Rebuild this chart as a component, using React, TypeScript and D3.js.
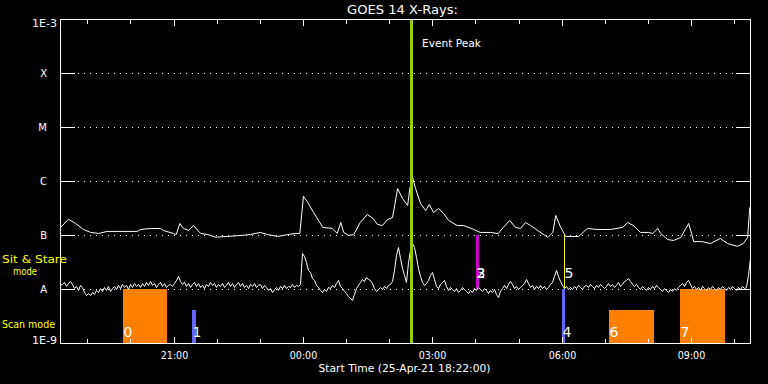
import React from 'react';
import * as d3 from 'd3';

const W = 768;
const H = 384;

// Time window: 25-Apr-21 18:22:00 UTC, 16 hours
const START_UTC = Date.UTC(2021, 3, 25, 18, 22, 0);
const SPAN_MIN = 960;

// GOES 14 long channel (1-8 A), minutes after start, flux in units of 1e-7 W/m^2
const longTimeMin = [
  0, 11, 21, 32, 42, 53, 65, 83, 107, 111, 125, 139, 143, 157, 161, 166, 171, 178, 185, 191,
  195, 205, 216, 232, 250, 264, 278, 288, 302, 316, 327, 333, 338, 344, 352, 365, 378, 385, 390, 394,
  401, 408, 417, 427, 435, 441, 448, 455, 462, 469, 476, 483, 486, 490, 494, 501, 508, 513, 519, 526,
  533, 540, 552, 561, 575, 584, 598, 609, 616, 625, 633, 640, 647, 654, 664, 678, 685, 689, 696, 703,
  721, 733, 747, 765, 782, 789, 797, 807, 818, 824, 831, 835, 845, 853, 863, 870, 874, 878, 881, 893,
  904, 918, 928, 942, 950, 956, 959, 960,
];
const longFlux1e7 = [
  1.4, 2.0, 1.67, 1.29, 1.14, 1.09, 1.19, 1.19, 1.19, 1.29, 1.35, 1.35, 1.24, 1.09, 1.04, 1.67, 1.35, 1.24, 1.53, 1.24,
  1.09, 1.04, 0.93, 0.96, 1.0, 1.04, 1.14, 1.04, 0.96, 1.04, 1.09, 1.09, 5.3, 4.1, 2.67, 1.41, 1.35, 1.09, 1.74, 1.14,
  1.0, 1.04, 1.74, 2.45, 2.06, 1.6, 1.53, 1.98, 2.15, 7.4, 4.8, 3.6, 7.4, 11.8, 7.4, 3.9, 2.9, 3.75, 2.67, 3.16,
  2.55, 1.9, 1.53, 1.53, 1.29, 1.14, 1.14, 1.09, 1.41, 1.9, 1.41, 1.35, 1.74, 1.53, 1.24, 0.92, 1.14, 2.35, 1.41, 0.96,
  0.96, 1.35, 1.29, 1.29, 1.41, 1.74, 1.53, 1.14, 1.14, 1.09, 1.35, 1.09, 0.84, 0.81, 0.92, 1.35, 1.67, 1.09, 0.77, 0.77,
  0.71, 0.88, 0.71, 0.63, 0.71, 0.92, 3.3, 3.4,
];

// GOES 14 short channel (0.5-4 A), evenly sampled over the window, flux in units of 1e-8 W/m^2
const shortFlux1e8 = [
  1.19, 1.24, 1.35, 1.14, 1.29, 1.41, 1.24, 1.04, 1.14, 0.96, 1.19, 1.09, 0.88, 0.77, 0.84, 0.77, 0.88, 0.81, 0.96, 0.88,
  1.04, 0.92, 1.09, 0.96, 1.14, 0.92, 1.04, 1.14, 1.00, 1.19,
  1.04, 1.24, 1.09, 1.19, 1.00, 1.24, 1.09, 1.29, 1.14, 1.24, 1.09, 1.29, 1.14, 1.35, 1.19, 1.41, 1.19, 1.29, 1.09, 1.24,
  1.35, 1.14, 1.29, 1.09, 1.19, 1.24, 1.14, 1.29, 1.47, 1.74,
  1.41, 1.24, 1.35, 1.14, 1.29, 1.09, 1.24, 1.35, 1.14, 1.29, 1.09, 1.19, 1.04, 1.24, 1.14, 1.35, 1.19, 1.29, 1.09, 1.24,
  1.14, 1.29, 1.09, 1.19, 1.35, 1.14, 1.29, 1.09, 1.24, 1.35,
  1.14, 1.29, 1.09, 1.19, 1.04, 1.24, 1.14, 1.29, 1.09, 1.19, 1.24, 1.04, 1.19, 1.09, 0.96, 1.04, 0.88, 1.00, 1.09, 0.96,
  1.14, 1.04, 1.19, 1.04, 1.14, 1.09, 1.24, 1.09, 1.19, 1.14,
  1.24, 4.64, 4.08, 3.16, 2.25, 2.06, 1.60, 1.47, 1.19, 1.09, 0.96, 0.88, 1.00, 0.92, 1.09, 1.04, 1.19, 1.09, 1.29, 1.47,
  1.14, 1.04, 0.92, 0.84, 0.74, 0.68, 0.63, 0.81, 1.04, 1.19,
  1.35, 1.53, 1.41, 1.67, 1.53, 1.47, 1.29, 1.04, 0.92, 1.00, 1.09, 1.00, 1.14, 1.04, 1.19, 1.24, 1.41, 2.25, 4.26, 6.0,
  3.75, 2.45, 1.82, 1.35, 3.16, 5.27, 7.11, 6.0, 3.91, 2.45,
  1.74, 1.35, 1.19, 1.29, 1.47, 1.82, 2.06, 1.53, 1.14, 1.04, 1.24, 1.35, 1.47, 1.14, 0.96, 1.09, 1.00, 0.92, 1.04, 0.88,
  0.96, 1.09, 1.00, 0.92, 0.84, 0.96, 0.88, 1.04, 0.96, 1.09,
  1.00, 0.92, 1.04, 0.96, 0.84, 0.96, 0.88, 1.00, 0.81, 0.71, 0.92, 1.04, 1.19, 1.04, 1.24, 1.41, 1.24, 1.04, 1.14, 1.00,
  1.09, 1.19, 1.29, 1.53, 1.29, 1.09, 1.19, 1.00, 1.14, 1.04,
  1.19, 1.04, 1.14, 1.00, 1.09, 1.24, 1.35, 1.74, 2.25, 1.74, 1.41, 1.19, 1.04, 1.14, 1.00, 1.09, 1.00, 1.14, 1.04, 1.19,
  1.09, 1.00, 1.14, 1.19, 1.09, 1.24, 1.14, 1.04, 1.19, 1.09,
  1.24, 1.14, 1.04, 1.14, 1.29, 1.14, 1.24, 1.09, 1.19, 1.35, 1.14, 1.24, 1.41, 1.47, 1.60, 1.41, 1.24, 1.14, 1.24, 1.09,
  1.00, 1.14, 1.04, 0.96, 1.09, 1.00, 1.14, 1.04, 1.19, 1.09,
  1.00, 0.92, 1.04, 0.96, 0.88, 1.00, 0.92, 1.04, 0.96, 1.09, 1.19, 1.29, 1.14, 1.35, 1.47, 1.24, 1.04, 1.14, 1.00, 1.09,
  0.96, 1.14, 1.04, 0.96, 1.09, 1.00, 1.14, 1.04, 0.96, 1.09,
  1.00, 1.14, 1.04, 0.96, 1.09, 1.00, 1.14, 1.04, 0.96, 1.09, 1.00, 1.14, 1.04, 1.09, 1.82, 3.75,
];

// GOES class levels
const classLetters = ['A', 'B', 'C', 'M', 'X'];
const classFlux = [1e-8, 1e-7, 1e-6, 1e-5, 1e-4];
const axisMin = 1e-9;
const axisMax = 1e-3;
const axisMinLabel = '1E-9';
const axisMaxLabel = '1E-3';

// Observations overlaid on the plot
const obsIds = ['0', '1', '2', '3', '4', '5', '6', '7'];
const obsStartMin = [88, 184, 579, 579, 698, 701, 764, 863];
const obsEndMin = [149, 189, 583, 583, 702, 701, 826, 925];
const obsLowFlux = [1e-9, 1e-9, 1e-8, 1e-8, 1e-9, 1e-8, 1e-9, 1e-9];
const obsHighFlux = [1e-8, 4e-9, 1e-7, 1e-7, 1e-8, 1e-7, 4e-9, 1e-8];
const obsKind = ['raster', 'short', 'stare', 'stare', 'short', 'stareShort', 'raster', 'raster'];

const eventPeakMin = 488;

const title = 'GOES 14 X-Rays:';
const eventLabel = 'Event Peak';
const xAxisTitle = 'Start Time (25-Apr-21 18:22:00)';
const modeLabels = ['Sit & Stare', 'mode', 'Scan mode'];

// ---------- styles ----------
const kindColor: Record<string, string> = {
  raster: '#ff8000',
  short: '#6464ff',
  stare: '#cc00cc',
  stareShort: '#ffff00',
};
const FONT = 'DejaVu Sans, sans-serif';
const L = 60, R = 750, T = 19, B = 343;

export default function App() {
  const start = new Date(START_UTC);
  const end = new Date(START_UTC + SPAN_MIN * 60000);
  const t = d3.scaleLinear().domain([0, SPAN_MIN]).range([L, R]);
  const xTime = d3.scaleUtc().domain([start, end]).range([L, R]);
  const y = d3.scaleLog().domain([axisMin, axisMax]).range([B, T]);

  const longLine = d3
    .line<number>()
    .x((_, i) => t(longTimeMin[i]) + 0.5)
    .y((v) => y(v * 1e-7) + 0.5)(longFlux1e7) as string;

  const step = SPAN_MIN / (shortFlux1e8.length - 1);
  const shortLine = d3
    .line<number>()
    .x((_, i) => t(i * step) + 0.5)
    .y((v) => y(v * 1e-8) + 0.5)(shortFlux1e8) as string;

  const hours = d3.utcHour.range(start, end);
  const fmt = d3.utcFormat('%H:%M');

  const peakX = Math.round(t(eventPeakMin)) - 1;

  return (
    <svg
      width={W}
      height={H}
      style={{ position: 'absolute', left: 0, top: 0, background: '#000' }}
      fontFamily={FONT}
    >
      <rect x={0} y={0} width={W} height={H} fill="#000" />

      {/* dotted class levels */}
      {classFlux.map((f, i) => (
        <line
          key={'g' + i}
          x1={78}
          x2={736}
          y1={y(f) + 0.5}
          y2={y(f) + 0.5}
          stroke="#fff"
          strokeDasharray="1 5"
          shapeRendering="crispEdges"
        />
      ))}

      {/* observation markers */}
      {obsIds.map((id, i) => {
        const x0 = Math.round(t(obsStartMin[i]));
        const x1 = Math.round(t(obsEndMin[i]));
        const w = Math.max(1, x1 - x0);
        const yTop = Math.round(y(obsHighFlux[i]));
        const yBot = Math.round(y(obsLowFlux[i]));
        return (
          <rect
            key={'o' + id}
            x={x0}
            y={yTop}
            width={w}
            height={yBot - yTop}
            fill={kindColor[obsKind[i]]}
            shapeRendering="crispEdges"
          />
        );
      })}

      {/* curves */}
      <path d={longLine} fill="none" stroke="#fff" strokeWidth={1} />
      <path d={shortLine} fill="none" stroke="#fff" strokeWidth={1} />

      {/* observation labels */}
      {obsIds.map((id, i) => {
        const x0 = Math.round(t(obsStartMin[i]));
        const yBot = y(obsLowFlux[i]);
        const off = obsLowFlux[i] <= axisMin ? 6 : 11.5;
        return (
          <text key={'l' + id} x={x0 + 0.5} y={yBot - off} fill="#fff" fontSize={14}>
            {id}
          </text>
        );
      })}

      {/* event peak */}
      <rect x={peakX} y={T} width={3} height={B - T + 1} fill="#9ccc00" shapeRendering="crispEdges" />
      <text x={peakX + 12} y={46.5} fill="#fff" fontSize={11} textLength={59} lengthAdjust="spacingAndGlyphs">
        {eventLabel}
      </text>

      {/* frame */}
      <rect x={L + 0.5} y={T + 0.5} width={R - L} height={B - T} fill="none" stroke="#fff" shapeRendering="crispEdges" />

      {/* y class ticks */}
      {[axisMin, ...classFlux, axisMax].map((f, i) => (
        <g key={'yt' + i}>
          <line x1={L} x2={L + 15} y1={y(f) + 0.5} y2={y(f) + 0.5} stroke="#fff" shapeRendering="crispEdges" />
          <line x1={R - 14} x2={R} y1={y(f) + 0.5} y2={y(f) + 0.5} stroke="#fff" shapeRendering="crispEdges" />
        </g>
      ))}
      {classLetters.map((c, i) => (
        <text key={'yl' + c} x={47} y={y(classFlux[i]) + 4} fill="#fff" fontSize={10} textAnchor="end">
          {c}
        </text>
      ))}
      <text x={57} y={26.7} fill="#fff" fontSize={10} textAnchor="end" textLength={25} lengthAdjust="spacingAndGlyphs">
        {axisMaxLabel}
      </text>
      <text x={57} y={343.5} fill="#fff" fontSize={10} textAnchor="end" textLength={25} lengthAdjust="spacingAndGlyphs">
        {axisMinLabel}
      </text>

      {/* x ticks (top & bottom) */}
      {hours.map((h, i) => {
        const major = h.getUTCHours() % 3 === 0;
        const xx = Math.round(xTime(h)) + 0.5;
        const len = major ? 6 : 4;
        return (
          <g key={'xt' + i}>
            <line x1={xx} x2={xx} y1={B} y2={B - len} stroke="#fff" shapeRendering="crispEdges" />
            <line x1={xx} x2={xx} y1={T + 1} y2={T + 1 + len} stroke="#fff" shapeRendering="crispEdges" />
            {major && (
              <text
                x={xx}
                y={359.3}
                fill="#fff"
                fontSize={10}
                textAnchor="middle"
                textLength={27.5}
                lengthAdjust="spacingAndGlyphs"
              >
                {fmt(h)}
              </text>
            )}
          </g>
        );
      })}

      {/* titles */}
      <text x={402.5} y={13.5} fill="#fff" fontSize={12} textAnchor="middle" textLength={111} lengthAdjust="spacingAndGlyphs">
        {title}
      </text>
      <text x={404.5} y={371.5} fill="#fff" fontSize={10} textAnchor="middle" textLength={172} lengthAdjust="spacingAndGlyphs">
        {xAxisTitle}
      </text>

      {/* mode labels */}
      <text x={2} y={262.5} fill="#ffff00" fontSize={10} textLength={65} lengthAdjust="spacingAndGlyphs">
        {modeLabels[0]}
      </text>
      <text x={13} y={275} fill="#ffff00" fontSize={10} textLength={24} lengthAdjust="spacingAndGlyphs">
        {modeLabels[1]}
      </text>
      <text x={2} y={327.5} fill="#ffff00" fontSize={11} textLength={53} lengthAdjust="spacingAndGlyphs">
        {modeLabels[2]}
      </text>
    </svg>
  );
}
